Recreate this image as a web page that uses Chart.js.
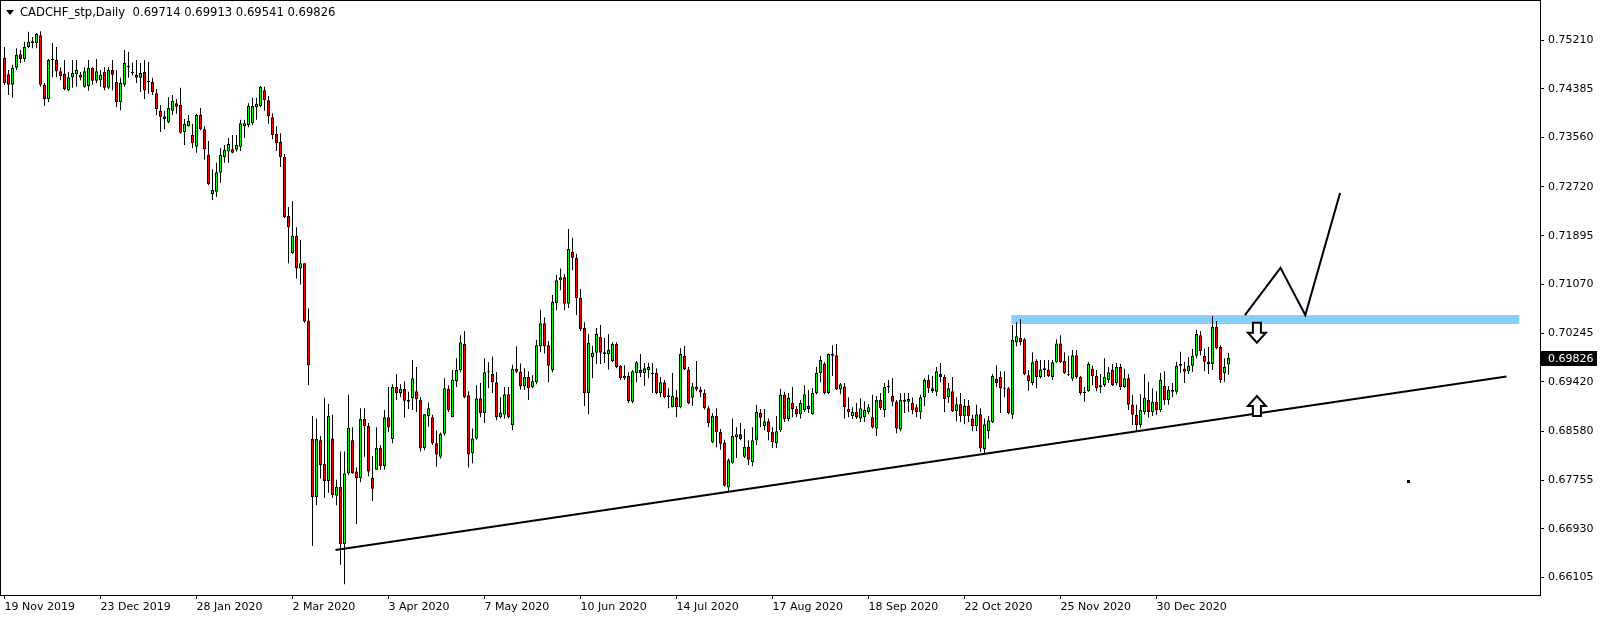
<!DOCTYPE html>
<html>
<head>
<meta charset="utf-8">
<script src="https://cdn.jsdelivr.net/npm/chart.js@4.4.1/dist/chart.umd.min.js"></script>
<style>
  html, body { margin: 0; padding: 0; background: #fff; }
  canvas { display: block; }
</style>
</head>
<body>
<canvas id="myChart" width="1604" height="622"></canvas>
<script>
// CADCHF daily candles, one entry per bar (bar 0 = 19 Nov 2019)
var openP = [
  0.7491,0.7463,0.7445,0.7474,0.7497,0.7489,0.7509,0.7519,0.7516,0.7529,
  0.7445,0.7421,0.7489,0.7487,0.7468,0.7464,0.7436,0.7458,0.7463,0.7462,
  0.7442,0.7443,0.7474,0.7452,0.7453,0.7467,0.7440,0.7470,0.7450,0.7416,
  0.7445,0.7475,0.7465,0.7462,0.7457,0.7467,0.7452,0.7450,0.7431,0.7401,
  0.7392,0.7382,0.7401,0.7414,0.7411,0.7365,0.7375,0.7360,0.7340,0.7394,
  0.7370,0.7326,0.7260,0.7264,0.7296,0.7323,0.7332,0.7336,0.7335,0.7340,
  0.7375,0.7377,0.7380,0.7407,0.7409,0.7436,0.7419,0.7390,0.7362,0.7348,
  0.7323,0.7223,0.7160,0.7189,0.7134,0.7143,0.7046,0.6845,0.6747,0.6843,
  0.6803,0.6774,0.6846,0.6749,0.6764,0.6667,0.6787,0.6843,0.6790,0.6779,
  0.6879,0.6867,0.6779,0.6793,0.6830,0.6799,0.6882,0.6845,0.6933,0.6923,
  0.6930,0.6911,0.6914,0.6926,0.6911,0.6830,0.6884,0.6882,0.6838,0.6815,
  0.6854,0.6930,0.6882,0.6943,0.6962,0.7006,0.6919,0.6821,0.6846,0.6914,
  0.6889,0.6958,0.6955,0.6941,0.6882,0.6886,0.6921,0.6869,0.6964,0.6959,
  0.6934,0.6950,0.6933,0.6941,0.7002,0.7041,0.7004,0.6962,0.7075,0.7114,
  0.7119,0.7074,0.7162,0.7152,0.7084,0.7033,0.6923,0.6984,0.6991,0.7018,
  0.6989,0.6989,0.6977,0.7006,0.6969,0.6948,0.6952,0.6908,0.6957,0.6962,
  0.6957,0.6962,0.6957,0.6957,0.6923,0.6941,0.6919,0.6899,0.6916,0.6899,
  0.6986,0.6963,0.6915,0.6934,0.6929,0.6923,0.6897,0.6840,0.6884,0.6857,
  0.6839,0.6763,0.6805,0.6848,0.6853,0.6815,0.6832,0.6806,0.6843,0.6889,
  0.6867,0.6875,0.6857,0.6838,0.6860,0.6920,0.6879,0.6906,0.6896,0.6887,
  0.6894,0.6901,0.6887,0.6923,0.6957,0.6972,0.6923,0.6989,0.6987,0.6929,
  0.6934,0.6896,0.6884,0.6891,0.6880,0.6882,0.6891,0.6882,0.6863,0.6911,
  0.6894,0.6933,0.6918,0.6908,0.6861,0.6911,0.6908,0.6906,0.6899,0.6891,
  0.6916,0.6945,0.6931,0.6925,0.6955,0.6950,0.6916,0.6926,0.6892,0.6904,
  0.6884,0.6901,0.6880,0.6867,0.6887,0.6828,0.6858,0.6874,0.6947,0.6950,
  0.6931,0.6931,0.6886,0.7009,0.7016,0.7014,0.6953,0.6940,0.6977,0.6950,
  0.6962,0.6963,0.6950,0.6975,0.7007,0.6977,0.6954,0.6947,0.6987,0.6950,
  0.6925,0.6926,0.6964,0.6952,0.6933,0.6936,0.6945,0.6962,0.6940,0.6967,
  0.6933,0.6948,0.6903,0.6886,0.6869,0.6891,0.6911,0.6891,0.6908,0.6894,
  0.6935,0.6911,0.6928,0.6925,0.6969,0.6964,0.6960,0.6969,0.6986,0.7021,
  0.6986,0.6976,0.6972,0.7035,0.7001,0.6957,0.69714
];
var highP = [
  0.7509,0.7470,0.7479,0.7507,0.7504,0.7518,0.7535,0.7526,0.7533,0.7536,
  0.7448,0.7489,0.7516,0.7509,0.7475,0.7487,0.7467,0.7487,0.7487,0.7467,
  0.7475,0.7487,0.7475,0.7489,0.7470,0.7475,0.7475,0.7487,0.7470,0.7457,
  0.7504,0.7501,0.7483,0.7487,0.7482,0.7487,0.7484,0.7457,0.7438,0.7411,
  0.7401,0.7424,0.7428,0.7421,0.7440,0.7387,0.7394,0.7379,0.7396,0.7406,
  0.7375,0.7350,0.7302,0.7313,0.7338,0.7343,0.7355,0.7360,0.7360,0.7386,
  0.7386,0.7414,0.7423,0.7423,0.7443,0.7442,0.7426,0.7397,0.7375,0.7363,
  0.7328,0.7238,0.7248,0.7204,0.7182,0.7143,0.7066,0.6884,0.6880,0.6850,
  0.6915,0.6905,0.6886,0.6776,0.6824,0.6824,0.6920,0.6865,0.6797,0.6897,
  0.6897,0.6872,0.6816,0.6865,0.6835,0.6894,0.6933,0.6938,0.6955,0.6938,
  0.6943,0.6925,0.6979,0.6967,0.6916,0.6887,0.6907,0.6886,0.6860,0.6856,
  0.6948,0.6936,0.6962,0.6982,0.7021,0.7028,0.6926,0.6863,0.6936,0.6940,
  0.6982,0.6975,0.6985,0.6958,0.6916,0.6933,0.6933,0.6971,0.7002,0.6973,
  0.6965,0.6960,0.6953,0.7013,0.7064,0.7051,0.7011,0.7089,0.7123,0.7134,
  0.7124,0.7201,0.7186,0.7159,0.7099,0.7043,0.7023,0.7003,0.7033,0.7038,
  0.7016,0.7023,0.7009,0.7009,0.6970,0.6970,0.6958,0.6962,0.6977,0.6989,
  0.6974,0.6974,0.6974,0.6965,0.6950,0.6945,0.6931,0.6957,0.6928,0.6999,
  0.7003,0.6967,0.6940,0.6977,0.6934,0.6929,0.6901,0.6889,0.6897,0.6862,
  0.6844,0.6812,0.6880,0.6865,0.6872,0.6862,0.6843,0.6865,0.6903,0.6896,
  0.6896,0.6880,0.6865,0.6884,0.6930,0.6925,0.6923,0.6933,0.6901,0.6911,
  0.6936,0.6928,0.6931,0.6967,0.6986,0.6975,0.6990,0.7004,0.7006,0.6940,
  0.6940,0.6916,0.6899,0.6906,0.6914,0.6909,0.6904,0.6920,0.6918,0.6923,
  0.6940,0.6945,0.6948,0.6911,0.6923,0.6923,0.6923,0.6916,0.6904,0.6920,
  0.6948,0.6954,0.6952,0.6967,0.6974,0.6954,0.6940,0.6950,0.6916,0.6923,
  0.6913,0.6911,0.6886,0.6903,0.6897,0.6880,0.6884,0.6955,0.6970,0.6960,
  0.6960,0.6933,0.7038,0.7043,0.7048,0.7016,0.6962,0.6992,0.6980,0.6979,
  0.6979,0.6979,0.6979,0.7014,0.7021,0.6992,0.6986,0.6996,0.6996,0.6952,
  0.6933,0.6975,0.6969,0.6962,0.6955,0.6982,0.6967,0.6972,0.6974,0.6972,
  0.6964,0.6955,0.6920,0.6903,0.6921,0.6955,0.6942,0.6931,0.6926,0.6957,
  0.6960,0.6935,0.6940,0.6976,0.6993,0.6976,0.6984,0.6998,0.7030,0.7028,
  0.6998,0.7001,0.7053,0.7045,0.7004,0.6982,0.69913
];
var lowP = [
  0.7445,0.7428,0.7423,0.7470,0.7482,0.7484,0.7507,0.7507,0.7507,0.7442,
  0.7409,0.7416,0.7458,0.7458,0.7453,0.7436,0.7434,0.7440,0.7442,0.7453,
  0.7440,0.7435,0.7445,0.7448,0.7442,0.7436,0.7438,0.7436,0.7407,0.7402,
  0.7442,0.7457,0.7461,0.7448,0.7433,0.7421,0.7430,0.7428,0.7394,0.7365,
  0.7370,0.7380,0.7394,0.7396,0.7362,0.7343,0.7374,0.7338,0.7330,0.7368,
  0.7318,0.7275,0.7250,0.7255,0.7279,0.7313,0.7313,0.7329,0.7332,0.7333,
  0.7355,0.7373,0.7377,0.7386,0.7407,0.7401,0.7379,0.7353,0.7333,0.7306,
  0.7219,0.7143,0.7159,0.7117,0.7107,0.7042,0.6936,0.6664,0.6733,0.6778,
  0.6745,0.6754,0.6745,0.6733,0.6632,0.6599,0.6784,0.6786,0.6701,0.6772,
  0.6815,0.6782,0.6740,0.6793,0.6793,0.6793,0.6857,0.6838,0.6911,0.6916,
  0.6881,0.6896,0.6894,0.6891,0.6824,0.6826,0.6866,0.6835,0.6798,0.6812,
  0.6851,0.6891,0.6882,0.6933,0.6958,0.6914,0.6797,0.6804,0.6844,0.6882,
  0.6872,0.6931,0.6923,0.6877,0.6880,0.6880,0.6880,0.6860,0.6957,0.6929,
  0.6928,0.6911,0.6931,0.6938,0.6992,0.6990,0.6941,0.6958,0.7063,0.7097,
  0.7063,0.7067,0.7131,0.7055,0.7028,0.6901,0.6887,0.6948,0.6972,0.6972,
  0.6974,0.6963,0.6975,0.6965,0.6945,0.6945,0.6906,0.6906,0.6941,0.6950,
  0.6935,0.6948,0.6923,0.6921,0.6916,0.6914,0.6897,0.6899,0.6882,0.6897,
  0.6962,0.6904,0.6901,0.6926,0.6916,0.6895,0.6865,0.6838,0.6831,0.6827,
  0.6764,0.6755,0.6803,0.6813,0.6843,0.6813,0.6801,0.6799,0.6835,0.6865,
  0.6860,0.6843,0.6830,0.6830,0.6857,0.6874,0.6875,0.6882,0.6882,0.6880,
  0.6891,0.6889,0.6886,0.6921,0.6941,0.6921,0.6921,0.6952,0.6928,0.6921,
  0.6880,0.6882,0.6879,0.6879,0.6874,0.6874,0.6887,0.6863,0.6850,0.6894,
  0.6882,0.6923,0.6901,0.6855,0.6858,0.6889,0.6891,0.6887,0.6882,0.6879,
  0.6901,0.6923,0.6923,0.6918,0.6941,0.6891,0.6906,0.6891,0.6875,0.6874,
  0.6870,0.6874,0.6858,0.6858,0.6823,0.6821,0.6846,0.6872,0.6933,0.6889,
  0.6916,0.6887,0.6879,0.7002,0.7004,0.6953,0.6927,0.6936,0.6931,0.6948,
  0.6950,0.6950,0.6945,0.6974,0.6974,0.6955,0.6952,0.6943,0.6947,0.6919,
  0.6908,0.6925,0.6936,0.6926,0.6923,0.6933,0.6940,0.6935,0.6936,0.6928,
  0.6932,0.6894,0.6869,0.6857,0.6864,0.6886,0.6881,0.6884,0.6886,0.6891,
  0.6903,0.6903,0.6916,0.6921,0.6957,0.6940,0.6955,0.6959,0.6982,0.6987,
  0.6960,0.6955,0.6962,0.6997,0.6940,0.6942,0.69541
];
var closeP = [
  0.7448,0.7445,0.7474,0.7496,0.7489,0.7509,0.7518,0.7516,0.7531,0.7445,
  0.7421,0.7487,0.7487,0.7468,0.7460,0.7438,0.7458,0.7465,0.7470,0.7457,
  0.7468,0.7474,0.7452,0.7468,0.7462,0.7440,0.7470,0.7462,0.7416,0.7448,
  0.7482,0.7477,0.7467,0.7457,0.7465,0.7436,0.7450,0.7433,0.7404,0.7391,
  0.7387,0.7406,0.7418,0.7408,0.7364,0.7379,0.7384,0.7346,0.7394,0.7370,
  0.7336,0.7277,0.7267,0.7297,0.7326,0.7335,0.7345,0.7330,0.7343,0.7380,
  0.7380,0.7409,0.7409,0.7413,0.7442,0.7419,0.7392,0.7360,0.7346,0.7323,
  0.7221,0.7204,0.7190,0.7134,0.7143,0.7044,0.6970,0.6747,0.6845,0.6801,
  0.6774,0.6884,0.6750,0.6764,0.6667,0.6787,0.6864,0.6787,0.6779,0.6879,
  0.6867,0.6790,0.6761,0.6830,0.6799,0.6882,0.6865,0.6933,0.6923,0.6930,
  0.6910,0.6908,0.6948,0.6913,0.6830,0.6887,0.6897,0.6838,0.6819,0.6854,
  0.6931,0.6894,0.6946,0.6962,0.7009,0.6916,0.6819,0.6846,0.6914,0.6889,
  0.6958,0.6960,0.6941,0.6882,0.6890,0.6921,0.6882,0.6964,0.6959,0.6934,
  0.6950,0.6931,0.6943,0.7004,0.7041,0.7002,0.6969,0.7077,0.7114,0.7119,
  0.7074,0.7167,0.7152,0.7084,0.7031,0.6923,0.7008,0.6991,0.7023,0.6991,
  0.6992,0.6996,0.7006,0.6967,0.6948,0.6952,0.6909,0.6960,0.6975,0.6957,
  0.6965,0.6967,0.6955,0.6923,0.6941,0.6916,0.6916,0.6918,0.6899,0.6989,
  0.6963,0.6906,0.6934,0.6929,0.6924,0.6897,0.6872,0.6884,0.6857,0.6837,
  0.6766,0.6809,0.6850,0.6853,0.6845,0.6832,0.6810,0.6843,0.6891,0.6881,
  0.6875,0.6857,0.6840,0.6858,0.6920,0.6879,0.6915,0.6896,0.6887,0.6906,
  0.6921,0.6896,0.6923,0.6957,0.6979,0.6923,0.6989,0.6986,0.6929,0.6938,
  0.6899,0.6891,0.6891,0.6882,0.6897,0.6894,0.6899,0.6865,0.6911,0.6897,
  0.6933,0.6934,0.6908,0.6863,0.6911,0.6908,0.6913,0.6894,0.6891,0.6916,
  0.6945,0.6931,0.6926,0.6960,0.6950,0.6913,0.6931,0.6892,0.6904,0.6884,
  0.6901,0.6884,0.6867,0.6887,0.6830,0.6870,0.6877,0.6952,0.6940,0.6931,
  0.6930,0.6889,0.7013,0.7019,0.7009,0.6955,0.6943,0.6975,0.6950,0.6963,
  0.6965,0.6952,0.6975,0.7007,0.6975,0.6957,0.6953,0.6987,0.6950,0.6923,
  0.6923,0.6972,0.6952,0.6931,0.6936,0.6950,0.6958,0.6936,0.6967,0.6933,
  0.6948,0.6903,0.6886,0.6869,0.6894,0.6915,0.6891,0.6908,0.6894,0.6945,
  0.6911,0.6928,0.6925,0.6969,0.6972,0.6959,0.6969,0.6986,0.7023,0.6994,
  0.6976,0.6972,0.7035,0.6999,0.6945,0.6967,0.69826
];

// time axis labels and the bar they sit on
var dateLabels = ["19 Nov 2019", "23 Dec 2019", "28 Jan 2020", "2 Mar 2020", "3 Apr 2020", "7 May 2020",
  "10 Jun 2020", "14 Jul 2020", "17 Aug 2020", "18 Sep 2020", "22 Oct 2020", "25 Nov 2020", "30 Dec 2020"];
var dateBars = [0, 24, 48, 72, 96, 120, 144, 168, 192, 216, 240, 264, 288];
var priceTicks = [0.75210, 0.74385, 0.73560, 0.72720, 0.71895, 0.71070, 0.70245,
  0.69420, 0.68580, 0.67755, 0.66930, 0.66105];

// drawn objects (bar index / price)
var zoneBars = [251.7, 378.7];
var zonePrices = [0.7040, 0.7055];
var trendLine = [{x: 82.75, y: 0.6657}, {x: 375.5, y: 0.6951}];
var zigzag = [{x: 310.1, y: 0.7055}, {x: 319.0, y: 0.7135}, {x: 325.2, y: 0.7055}, {x: 333.9, y: 0.7262}];
var arrowBars = [313.1, 313.1];
var arrowPrices = [0.7042, 0.6884];
var dotMark = {x: 350.9, y: 0.6774};

var bullColor = "#00ff00";
var bearColor = "#ff0000";

var bodies = openP.map(function (o, i) { return {x: i, y: [o, closeP[i]]}; });
var wicks = lowP.map(function (l, i) { return {x: i, y: [l, highP[i]]}; });
var bodyColors = openP.map(function (o, i) { return closeP[i] >= o ? bullColor : bearColor; });

function drawArrow(ctx, cx, y0, dir) {
  // hollow block arrow, dir 1 = pointing down, -1 = pointing up
  ctx.beginPath();
  ctx.moveTo(cx - 4, y0);
  ctx.lineTo(cx + 4, y0);
  ctx.lineTo(cx + 4, y0 + dir * 10);
  ctx.lineTo(cx + 9, y0 + dir * 10);
  ctx.lineTo(cx, y0 + dir * 20);
  ctx.lineTo(cx - 9, y0 + dir * 10);
  ctx.lineTo(cx - 4, y0 + dir * 10);
  ctx.closePath();
  ctx.fillStyle = "#fff";
  ctx.fill();
  ctx.lineWidth = 2;
  ctx.strokeStyle = "#000";
  ctx.stroke();
}

var mt4Extras = {
  id: "mt4Extras",
  beforeDatasetsDraw: function (chart) {
    var ctx = chart.ctx, x = chart.scales.x, y = chart.scales.y;
    var x1 = x.getPixelForValue(zoneBars[0]), x2 = x.getPixelForValue(zoneBars[1]);
    var y1 = y.getPixelForValue(zonePrices[1]), y2 = y.getPixelForValue(zonePrices[0]);
    ctx.save();
    ctx.fillStyle = "#87cefa";
    ctx.fillRect(x1, y1, x2 - x1, y2 - y1);
    ctx.restore();
  },
  afterDatasetsDraw: function (chart) {
    var ctx = chart.ctx, x = chart.scales.x, y = chart.scales.y;
    ctx.save();
    drawArrow(ctx, x.getPixelForValue(arrowBars[0]), y.getPixelForValue(arrowPrices[0]), 1);
    drawArrow(ctx, x.getPixelForValue(arrowBars[1]), y.getPixelForValue(arrowPrices[1]), -1);
    ctx.fillStyle = "#000";
    ctx.fillRect(Math.round(x.getPixelForValue(dotMark.x)) - 1, Math.round(y.getPixelForValue(dotMark.y)) - 1, 3, 3);
    ctx.restore();
  },
  afterDraw: function (chart) {
    var ctx = chart.ctx, a = chart.chartArea, y = chart.scales.y;
    var last = closeP.length - 1;
    ctx.save();
    // frame
    ctx.strokeStyle = "#000";
    ctx.lineWidth = 1;
    ctx.strokeRect(a.left - 0.5, a.top - 0.5, a.right - a.left + 1, a.bottom - a.top + 1);
    // header
    ctx.fillStyle = "#000";
    ctx.beginPath();
    ctx.moveTo(6, 10); ctx.lineTo(14, 10); ctx.lineTo(10, 15); ctx.closePath();
    ctx.fill();
    ctx.font = "11.6px 'DejaVu Sans'";
    ctx.textBaseline = "middle";
    ctx.fillText("CADCHF_stp,Daily  " + openP[last].toFixed(5) + " " + highP[last].toFixed(5) + " " +
      lowP[last].toFixed(5) + " " + closeP[last].toFixed(5), 20, 13);
    // last price tag
    ctx.font = "11px 'DejaVu Sans'";
    var py = Math.round(y.getPixelForValue(closeP[last]));
    ctx.fillRect(a.right + 1, py - 7, 56, 15);
    ctx.fillStyle = "#fff";
    ctx.fillText(closeP[last].toFixed(5), a.right + 8, py + 1);
    ctx.restore();
  }
};

Chart.defaults.font.family = "'DejaVu Sans'";
Chart.defaults.font.size = 11;
Chart.defaults.color = "#000";

new Chart("myChart", {
  type: "bar",
  data: {
    datasets: [
      {
        type: "line",
        data: trendLine,
        borderColor: "#000",
        borderWidth: 2,
        pointRadius: 0,
        fill: false,
        order: -1
      },
      {
        type: "line",
        data: zigzag,
        borderColor: "#000",
        borderWidth: 2,
        pointRadius: 0,
        fill: false,
        order: -1
      },
      {
        data: bodies,
        backgroundColor: bodyColors,
        borderColor: "#000",
        borderWidth: 1,
        borderSkipped: false,
        barThickness: 3,
        minBarLength: 1,
        inflateAmount: 0,
        grouped: false,
        order: 0
      },
      {
        data: wicks,
        backgroundColor: "#000",
        borderWidth: 0,
        barThickness: 1,
        inflateAmount: 0,
        grouped: false,
        order: 1
      }
    ]
  },
  options: {
    responsive: false,
    animation: false,
    events: [],
    layout: {padding: {left: 1, top: 1}},
    plugins: {legend: {display: false}, tooltip: {enabled: false}},
    scales: {
      x: {
        type: "linear",
        min: -0.875,
        max: 383.875,
        offset: false,
        border: {display: false},
        grid: {display: true, drawOnChartArea: false, drawTicks: true, tickLength: 4, color: "#000", offset: false},
        ticks: {
          autoSkip: false,
          maxRotation: 0,
          align: "start",
          padding: 2,
          callback: function (v) { return dateLabels[dateBars.indexOf(v)]; }
        },
        afterBuildTicks: function (scale) {
          scale.ticks = dateBars.map(function (b) { return {value: b}; });
        },
        afterFit: function (scale) {
          scale.height = 27;
          scale.paddingLeft = 0;
          scale.paddingRight = 0;
        }
      },
      y: {
        position: "right",
        min: 0.65808,
        max: 0.758707,
        border: {display: false},
        grid: {display: true, drawOnChartArea: false, drawTicks: true, tickLength: 4, color: "#000"},
        ticks: {
          autoSkip: false,
          padding: 4,
          callback: function (v) { return v.toFixed(5); }
        },
        afterBuildTicks: function (scale) {
          scale.ticks = priceTicks.map(function (p) { return {value: p}; });
        },
        afterFit: function (scale) {
          scale.width = 64;
          scale.paddingTop = 0;
          scale.paddingBottom = 0;
        }
      }
    }
  },
  plugins: [mt4Extras]
});
</script>
</body>
</html>
